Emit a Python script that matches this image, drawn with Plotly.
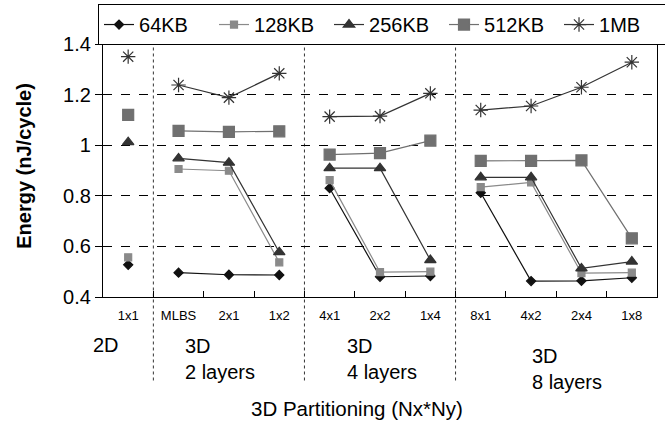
import plotly.graph_objects as go

categories = ["1x1", "MLBS", "2x1", "1x2", "4x1", "2x2", "1x4", "8x1", "4x2", "2x4", "1x8"]
group_of = [0, 1, 1, 1, 2, 2, 2, 3, 3, 3, 3]
group_labels = ["2D", "3D<br>2 layers", "3D<br>4 layers", "3D<br>8 layers"]

e64 = [0.527, 0.496, 0.488, 0.487, 0.830, 0.480, 0.483, 0.812, 0.463, 0.464, 0.476]
e128 = [0.557, 0.906, 0.899, 0.537, 0.862, 0.498, 0.500, 0.834, 0.853, 0.494, 0.496]
e256 = [1.012, 0.948, 0.931, 0.577, 0.909, 0.909, 0.546, 0.873, 0.873, 0.513, 0.540]
e512 = [1.120, 1.057, 1.053, 1.055, 0.963, 0.969, 1.018, 0.938, 0.938, 0.940, 0.632]
e1m = [1.350, 1.238, 1.188, 1.284, 1.113, 1.115, 1.205, 1.139, 1.155, 1.229, 1.328]

series = [
    ("64KB", e64, "#111111", "diamond", 7),
    ("128KB", e128, "#8a8a8a", "square", 7),
    ("256KB", e256, "#333333", "triangle-up", 10),
    ("512KB", e512, "#707070", "square", 11),
    ("1MB", e1m, "#333333", "asterisk-open", 12),
]

FONT = "Liberation Sans, Arial, Helvetica, sans-serif"

# label placement (category units / paper units)
label_x = [-0.44, 1.08, 4.3, 7.97]
label_y = [-0.19, -0.245, -0.245, -0.285]
label_anchor = ["center", "left", "left", "left"]


def with_gaps(vals):
    xs, ys = [], []
    prev = None
    for cat, g, v in zip(categories, group_of, vals):
        if prev is not None and g != prev:
            xs.append(None)
            ys.append(None)
        xs.append(cat)
        ys.append(v)
        prev = g
    return xs, ys


fig = go.Figure()
for name, vals, color, sym, size in series:
    xs, ys = with_gaps(vals)
    fig.add_trace(go.Scatter(
        x=xs, y=ys, name=name, mode="lines+markers",
        line=dict(color=color, width=1.2),
        marker=dict(symbol=sym, size=size, color=color,
                    line=dict(color=color, width=1.2)),
        connectgaps=False,
    ))

# invisible trace for overlay axis (inner y ticks)
fig.add_trace(go.Scatter(x=[categories[0]], y=[0.4], yaxis="y2", mode="markers",
                         marker=dict(opacity=0), showlegend=False, hoverinfo="skip"))

# group separators (dashed, extending below the plot)
boundaries = [i + 0.5 for i in range(len(categories) - 1) if group_of[i] != group_of[i + 1]]
for b in boundaries:
    fig.add_shape(type="line", xref="x", yref="paper", x0=b, x1=b, y0=-0.33, y1=1,
                  line=dict(color="#333333", width=1, dash="3px,3px"), layer="below")

for g, lab in enumerate(group_labels):
    fig.add_annotation(x=label_x[g], y=label_y[g], xref="x", yref="paper", text=lab,
                       showarrow=False, xanchor=label_anchor[g], yanchor="middle",
                       align="left", font=dict(family=FONT, size=20, color="black"))

fig.add_annotation(x=0.458, y=-0.44, xref="paper", yref="paper",
                   text="3D Partitioning (Nx*Ny)", showarrow=False,
                   xanchor="center", yanchor="middle",
                   font=dict(family=FONT, size=20.5, color="black"))
fig.add_annotation(x=-0.142, y=0.52, xref="paper", yref="paper",
                   text="<b>Energy (nJ/cycle)</b>", showarrow=False, textangle=-90,
                   xanchor="center", yanchor="middle",
                   font=dict(family=FONT, size=20, color="black"))

fig.update_layout(
    width=665, height=425,
    margin=dict(l=103, r=8, t=44, b=128, autoexpand=False),
    plot_bgcolor="white", paper_bgcolor="white",
    font=dict(family=FONT, color="black"),
    showlegend=True,
    legend=dict(orientation="h", x=-0.009, y=1.158, xanchor="left", yanchor="top",
                bordercolor="black", borderwidth=1, bgcolor="white",
                font=dict(family=FONT, size=20, color="black"),
                itemwidth=30, tracegroupgap=0,
                entrywidth=70, entrywidthmode="pixels"),
    xaxis=dict(type="category", categoryorder="array", categoryarray=categories,
               range=[-0.5, len(categories) - 0.5], tickson="boundaries", ticks="inside",
               ticklen=6, tickcolor="black", tickwidth=1, ticklabelstandoff=6,
               showgrid=False, showline=True, linecolor="black", linewidth=1.3,
               mirror=True, tickfont=dict(family=FONT, size=13, color="black"),
               zeroline=False),
    yaxis=dict(range=[0.4, 1.4], tickvals=[0.4, 0.6, 0.8, 1.0, 1.2, 1.4],
               ticktext=["0.4", "0.6", "0.8", "1", "1.2", "1.4"],
               ticks="outside", ticklen=7, tickcolor="black",
               showgrid=True, gridcolor="black", griddash="dash", gridwidth=1,
               showline=True, linecolor="black", linewidth=1.3, mirror=True,
               tickfont=dict(family=FONT, size=20, color="black"), zeroline=False),
    yaxis2=dict(range=[0.4, 1.4], overlaying="y", side="left",
                tickvals=[0.4, 0.6, 0.8, 1.0, 1.2, 1.4], ticks="inside", ticklen=7,
                tickcolor="black", showticklabels=False, showgrid=False,
                showline=False, zeroline=False),
)

fig.write_html("out.html")
